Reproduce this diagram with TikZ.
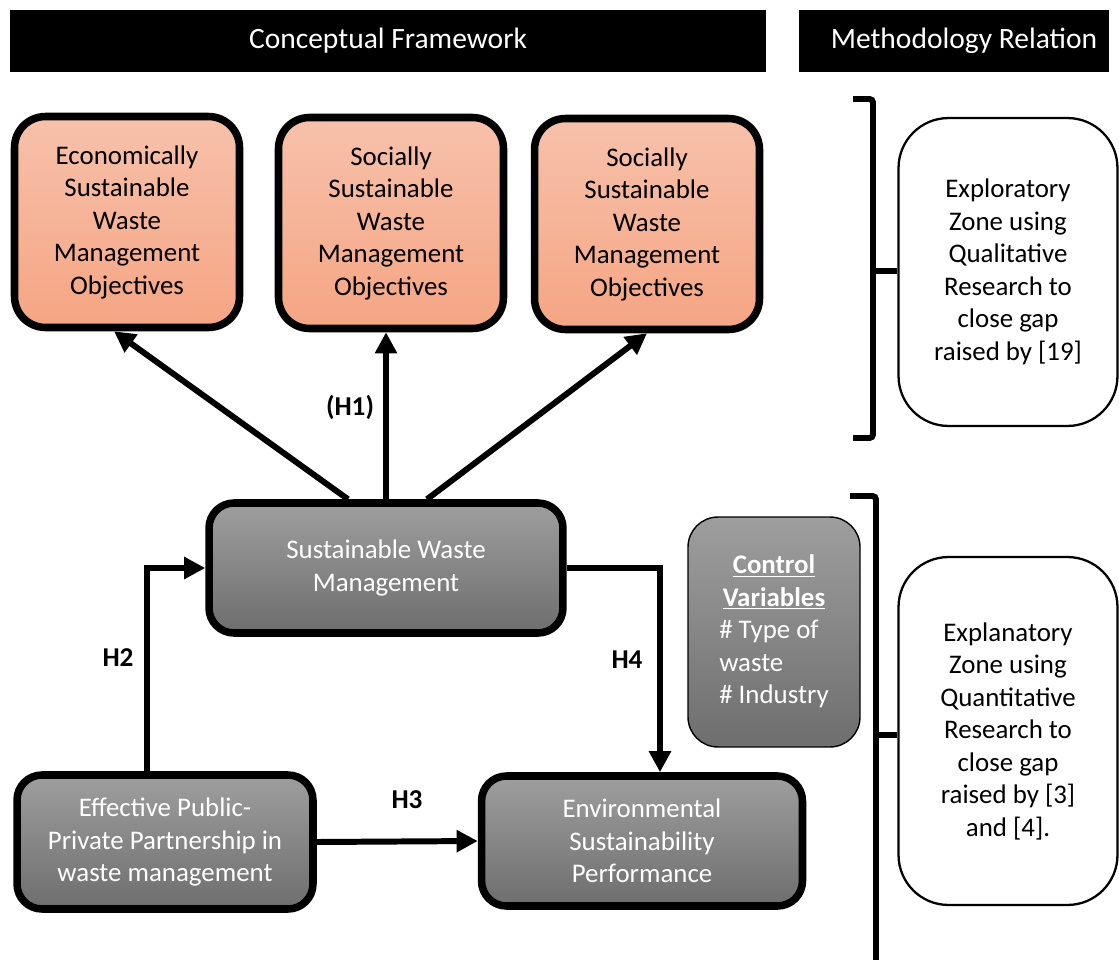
\documentclass[tikz,border=0pt]{standalone}
\usepackage{fontspec}
\setmainfont{Carlito}
\usetikzlibrary{arrows.meta}

\definecolor{peachtop}{RGB}{247,193,171}
\definecolor{peachbot}{RGB}{245,165,131}
\definecolor{greytop}{RGB}{158,158,158}
\definecolor{greybot}{RGB}{110,110,110}

\newcommand{\boxfont}{\fontsize{15.3}{18.5}\selectfont}
\newcommand{\headfont}{\fontsize{16.8}{19}\selectfont}
\newcommand{\hypfont}{\fontsize{15.5}{18}\selectfont}

\tikzset{
  objbox/.style={draw, line width=4.3pt, rounded corners=0.62cm, top color=peachtop, bottom color=peachbot,
    align=center, font=\boxfont, minimum width=4.5cm, minimum height=4.22cm},
  greybox/.style={draw, line width=4.3pt, rounded corners=0.5cm, top color=greytop, bottom color=greybot,
    align=center, font=\boxfont, text=white},
  zonebox/.style={draw, line width=1.3pt, rounded corners=1cm, fill=white, align=center, font=\boxfont,
    minimum width=4.38cm},
  headbar/.style={fill=black, text=white, font=\headfont, minimum height=1.24cm},
  hyparrow/.style={line width=3.4pt, -{Triangle[length=12pt,width=12pt]}},
  hyplabel/.style={font=\hypfont\bfseries},
  zonebrace/.style={line width=3.4pt, rounded corners=2pt}
}

\begin{document}
\begin{tikzpicture}[x=0.02cm,y=-0.02cm]
    \useasboundingbox (0,0) rectangle (1119,960);
    \clip (0,0) rectangle (1119,960);

    \node[headbar, minimum width=15.12cm] (hconcept) at (388,41) {Conceptual Framework};
    \node[headbar, minimum width=6.22cm] (hmethod) at (954,41) {\hspace*{0.4cm}Methodology Relation};

    \node[objbox] (econ) at (127,222) {Economically\\Sustainable\\Waste\\Management\\Objectives};
    \node[objbox] (socone) at (391,223) {Socially\\Sustainable\\Waste\\Management\\Objectives};
    \node[objbox] (soctwo) at (647,224) {Socially\\Sustainable\\Waste\\Management\\Objectives};

    \node[greybox, minimum width=7.08cm, minimum height=2.6cm] (swm) at (386,568) {Sustainable Waste\\Management};
    \node[greybox, minimum width=5.92cm, minimum height=2.68cm] (ppp) at (165,842) {Effective Public-\\Private Partnership in\\waste management};
    \node[greybox, minimum width=6.42cm, minimum height=2.6cm] (esp) at (642,841) {Environmental\\Sustainability\\Performance};
    \node[greybox, line width=0.8pt, rounded corners=0.6cm, minimum width=3.44cm, minimum height=4.6cm] (ctrl) at (774,632)
      {\begin{tabular}{@{}l@{}}
        \multicolumn{1}{@{}c@{}}{\underline{\textbf{Control}}}\\
        \multicolumn{1}{@{}c@{}}{\underline{\textbf{Variables}}}\\
        \# Type of\\
        waste\\
        \# Industry
      \end{tabular}};

    \node[zonebox, minimum height=6.16cm] (explor) at (1008,272) {Exploratory\\Zone using\\Qualitative\\Research to\\close gap\\raised by [19]};
    \node[zonebox, minimum height=6.96cm] (explan) at (1008,731) {Explanatory\\Zone using\\Quantitative\\Research to\\close gap\\raised by [3]\\and [4].};

    \draw[zonebrace] (853,99) -- (873,99) -- (873,438) -- (853,438);
    \draw[zonebrace] (873,271) -- (explor.west |- 0,271);
    \draw[zonebrace] (850,496) -- (876,496) -- (876,980);
    \draw[zonebrace] (876,735) -- (explan.west |- 0,735);

    \draw[hyparrow] ([xshift=-0.76cm]swm.north) -- ([xshift=-0.26cm]econ.south);
    \draw[hyparrow] (swm.north) -- (swm.north |- socone.south);
    \draw[hyparrow] ([xshift=0.82cm]swm.north) -- (soctwo.south);
    \draw[hyparrow] ([xshift=-0.36cm]ppp.north) |- (swm.west);
    \draw[hyparrow] (swm.east) -| ([xshift=0.36cm]esp.north);
    \draw[hyparrow] (ppp.east) -- (esp.west);

    \node[hyplabel] (lhone) at (350,407) {(H1)};
    \node[hyplabel] (lhtwo) at (118,658) {H2};
    \node[hyplabel] (lhthree) at (407,800) {H3};
    \node[hyplabel] (lhfour) at (627,660) {H4};
\end{tikzpicture}
\end{document}
